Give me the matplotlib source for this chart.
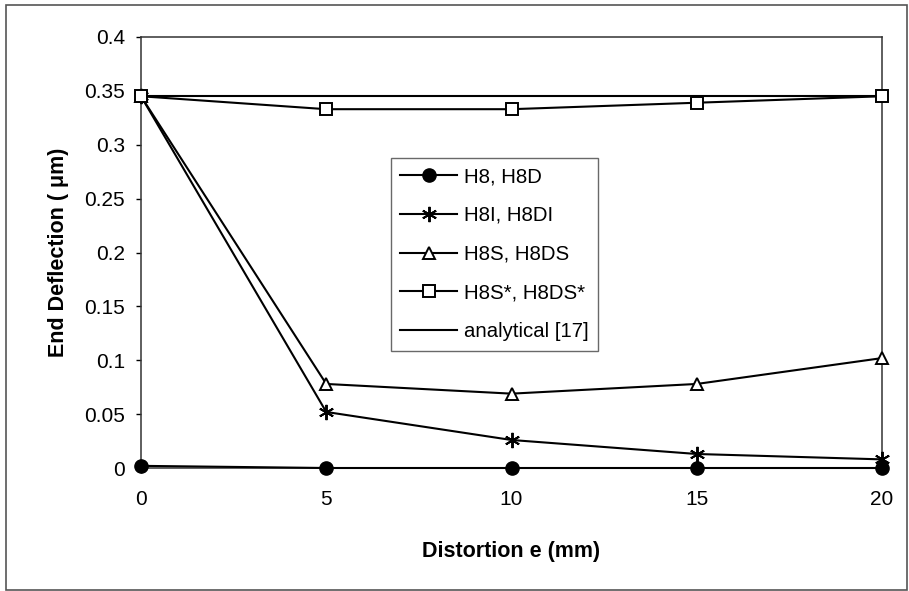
import matplotlib
matplotlib.use("Agg")
import matplotlib.pyplot as plt
from matplotlib.patches import Rectangle

plt.rcParams['font.family'] = ['Liberation Sans', 'DejaVu Sans']

distortion = [0, 5, 10, 15, 20]
h8 = [0.002, 0.0, 0.0, 0.0, 0.0]
h8i = [0.345, 0.052, 0.026, 0.013, 0.008]
h8s = [0.345, 0.078, 0.069, 0.078, 0.102]
h8s_star = [0.345, 0.333, 0.333, 0.339, 0.345]
analytical = [0.345, 0.345, 0.345, 0.345, 0.345]

labels = ["H8, H8D", "H8I, H8DI", "H8S, H8DS", "H8S*, H8DS*", "analytical [17]"]
xticks = [0, 5, 10, 15, 20]
yticks = [0, 0.05, 0.1, 0.15, 0.2, 0.25, 0.3, 0.35, 0.4]
ytick_labels = ["0", "0.05", "0.1", "0.15", "0.2", "0.25", "0.3", "0.35", "0.4"]

W, H = 909, 591
fig = plt.figure(figsize=(W/100, H/100), dpi=100)
ax = fig.add_axes([141/W, 1-468/H, (882-141)/W, (468-37)/H])

fig.patches.append(Rectangle((6/W, 1/H), 901/W, 585/H, transform=fig.transFigure,
                             fill=False, edgecolor='#555555', linewidth=1.2))

lw = 1.5
ax.plot(distortion, analytical, color='black', lw=lw, label=labels[4], zorder=2)
ax.plot(distortion, h8, color='black', lw=lw, marker='o', markersize=9.5,
        label=labels[0], clip_on=False, zorder=3)
ax.plot(distortion, h8i, color='black', lw=lw, marker=(6, 2, 0), markersize=11,
        markeredgewidth=1.4, label=labels[1], clip_on=False, zorder=3)
ax.plot(distortion, h8s, color='black', lw=lw, marker='^', markersize=9,
        markerfacecolor='white', markeredgewidth=1.4, label=labels[2], clip_on=False, zorder=3)
ax.plot(distortion, h8s_star, color='black', lw=lw, marker='s', markersize=9,
        markerfacecolor='white', markeredgewidth=1.4, label=labels[3], clip_on=False, zorder=3)

ax.set_xlim(0, 20)
ax.set_ylim(0, 0.4)
ax.set_xticks(xticks)
ax.set_xticklabels([str(v) for v in xticks], fontsize=15)
ax.set_yticks(yticks)
ax.set_yticklabels(ytick_labels, fontsize=15)
ax.tick_params(axis='both', direction='out', length=3.6, width=1.0)
ax.tick_params(axis='x', pad=12)
ax.tick_params(axis='y', pad=8)
for s in ax.spines.values():
    s.set_color('#333333')
    s.set_linewidth(1.1)

ax.set_xlabel("Distortion e (mm)", fontsize=15.5, fontweight='bold', labelpad=23)
ax.set_ylabel("End Deflection ( μm)", fontsize=15.5, fontweight='bold', labelpad=11)

handles, labs = ax.get_legend_handles_labels()
order = [1, 2, 3, 4, 0]
leg = ax.legend([handles[i] for i in order], [labs[i] for i in order],
                loc='upper left', bbox_to_anchor=((391-141)/741, (468-158)/431),
                fontsize=14.7, frameon=True, fancybox=False, edgecolor='#444444',
                handlelength=2.8, handletextpad=0.35, labelspacing=0.97,
                borderpad=0.45, borderaxespad=0)
leg.get_frame().set_linewidth(1.0)

fig.savefig("out.png", dpi=100)
